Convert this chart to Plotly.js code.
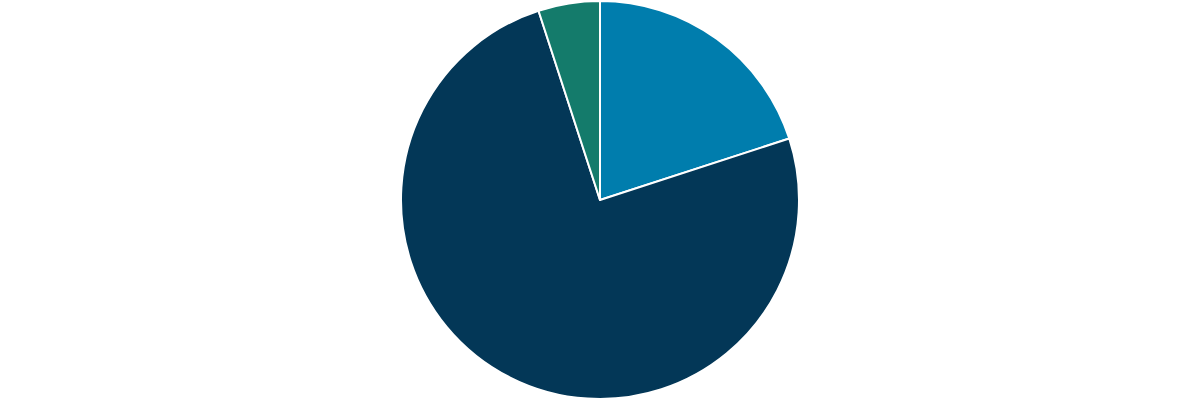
<!DOCTYPE html>
<html>
<head>
<meta charset="utf-8">
<script src="https://cdn.plot.ly/plotly-3.0.1.min.js"></script>
<style>
  html, body { margin: 0; padding: 0; background: #fff; }
  #chart { width: 1200px; height: 400px; }
</style>
</head>
<body>
<div id="chart"></div>
<script>
const labels = ['A', 'B', 'C'];
const values = [20, 75, 5];
const colors = ['#007DAD', '#033757', '#147B6B'];

const trace = {
    type: 'pie',
    labels: labels,
    values: values,
    sort: false,
    direction: 'clockwise',
    rotation: 0,
    textinfo: 'none',
    hoverinfo: 'label+percent',
    marker: {
        colors: colors,
        line: {color: '#ffffff', width: 2}
    }
};

const layout = {
    width: 1200,
    height: 400,
    margin: {l: 0, r: 0, t: 1, b: 1},
    showlegend: false,
    paper_bgcolor: '#ffffff'
};

Plotly.newPlot('chart', [trace], layout, {displayModeBar: false});
</script>
</body>
</html>
